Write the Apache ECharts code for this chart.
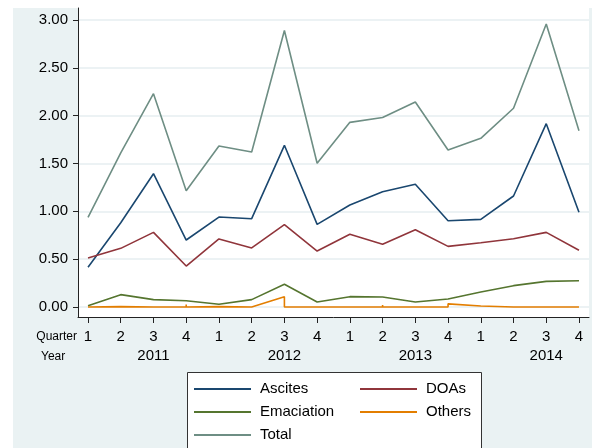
<!DOCTYPE html>
<html>
<head>
<meta charset="utf-8">
<script src="https://cdn.jsdelivr.net/npm/echarts@6/dist/echarts.min.js"></script>
<style>
html,body{margin:0;padding:0;background:#fff;}
#c{width:592px;height:448px;}
</style>
</head>
<body>
<div id="c"></div>
<script>
// Data
const quarters = ['1','2','3','4','1','2','3','4','1','2','3','4','1','2','3','4'];
const yearLabels = ['2011','2012','2013','2014'];
const yearTickIdx = [2, 6, 10, 14];
const yTicks = [0, 0.5, 1, 1.5, 2, 2.5, 3];

const ascites    = [0.415,0.88,1.393,0.70,0.94,0.923,1.69,0.864,1.066,1.205,1.282,0.902,0.916,1.16,1.916,0.99];
const doas       = [0.512,0.613,0.78,0.428,0.711,0.617,0.86,0.585,0.76,0.655,0.808,0.634,0.672,0.714,0.78,0.593];
const emaciation = [0.014,0.129,0.077,0.066,0.028,0.077,0.237,0.052,0.108,0.105,0.052,0.084,0.157,0.223,0.268,0.275];
const total      = [0.937,1.61,2.23,1.216,1.683,1.62,2.89,1.502,1.93,1.98,2.143,1.641,1.763,2.077,2.958,1.843];
// Others has repeated quarters (several records per quarter)
const othersX = [0,1,2,3,3,3,4,5,6,6,7,8,9,9,9,10,11,11,12,12,13,14,15];
const othersY = [0,0.004,0,0,0.025,0,0.004,0,0.108,0,0,0,0,0.022,0,0,0,0.033,0.01,0.022,0,0,0];

const colors = {
  Ascites:'#1a476f', DOAs:'#90353b', Emaciation:'#55752f', Others:'#e37e00', Total:'#6e8e84'
};

function pairs(arr){ return arr.map((v,i)=>[i,v]); }

const chart = echarts.init(document.getElementById('c'), null, {renderer:'canvas'});
const font = 'Liberation Sans, Arial, Helvetica, sans-serif';

function lineSeries(name, data){
  return {
    name, type:'line', data, symbol:'none', animation:false,
    lineStyle:{color:colors[name], width:1.6},
    itemStyle:{color:colors[name]}
  };
}

const legendCommon = {
  orient:'vertical', top:380, padding:0, height:80,
  icon:'rect', itemWidth:57, itemHeight:2, itemGap:5,
  textStyle:{fontSize:15, color:'#000', lineHeight:18, fontFamily:font, padding:[0,0,0,4]},
  z:10, selectedMode:false
};

chart.setOption({
  backgroundColor:'#eaf2f3',
  animation:false,
  textStyle:{fontFamily:font},
  grid:{left:78, right:3, top:8, bottom:131, show:true, backgroundColor:'#ffffff', borderWidth:0},
  xAxis:[{
    type:'value', min:-0.306, max:15.306,
    axisLine:{onZero:false, lineStyle:{color:'#222', width:1}},
    axisTick:{customValues:quarters.map((q,i)=>i), length:6, lineStyle:{color:'#222', width:1}},
    axisLabel:{customValues:quarters.map((q,i)=>i), formatter:v=>quarters[Math.round(v)], color:'#000', fontSize:15, margin:12, fontFamily:font},
    splitLine:{show:false}
  },{
    type:'value', min:-0.306, max:15.306, position:'bottom',
    axisLine:{show:false, onZero:false}, axisTick:{show:false},
    axisLabel:{customValues:yearTickIdx, formatter:v=>yearLabels[yearTickIdx.indexOf(Math.round(v))], color:'#000', fontSize:15, margin:31, fontFamily:font},
    splitLine:{show:false}
  }],
  yAxis:{
    type:'value', min:-0.1045, max:3.125,
    axisLine:{show:true, onZero:false, lineStyle:{color:'#222', width:1}},
    axisTick:{show:true, customValues:yTicks, length:5, lineStyle:{color:'#222', width:1}},
    axisLabel:{customValues:yTicks, formatter:v=>v.toFixed(2), color:'#000', fontSize:15, margin:10, fontFamily:font},
    splitLine:{show:true, lineStyle:{color:'#e6eef0', width:1.5}}
  },
  legend:[
    Object.assign({}, legendCommon, {data:['Ascites','Emaciation','Total'], left:194}),
    Object.assign({}, legendCommon, {data:['DOAs','Others'], left:360})
  ],
  graphic:[
    {type:'rect', shape:{x:0,y:0,width:592,height:8}, style:{fill:'#ffffff'}, silent:true},
    {type:'rect', shape:{x:0,y:0,width:13,height:448}, style:{fill:'#ffffff'}, silent:true},
    {type:'rect', z:1, shape:{x:187.5,y:372.5,width:294,height:90}, style:{fill:'#ffffff', stroke:'#333', lineWidth:1}, silent:true},
    {type:'text', x:77, y:337, style:{text:'Quarter', fill:'#000', font:'12px '+font, align:'right', verticalAlign:'middle'}},
    {type:'text', x:41, y:357, style:{text:'Year', fill:'#000', font:'12px '+font, align:'left', verticalAlign:'middle'}}
  ],
  series:[
    lineSeries('Ascites', pairs(ascites)),
    lineSeries('DOAs', pairs(doas)),
    lineSeries('Emaciation', pairs(emaciation)),
    lineSeries('Others', othersX.map((x,i)=>[x, othersY[i]])),
    lineSeries('Total', pairs(total))
  ]
});
</script>
</body>
</html>
